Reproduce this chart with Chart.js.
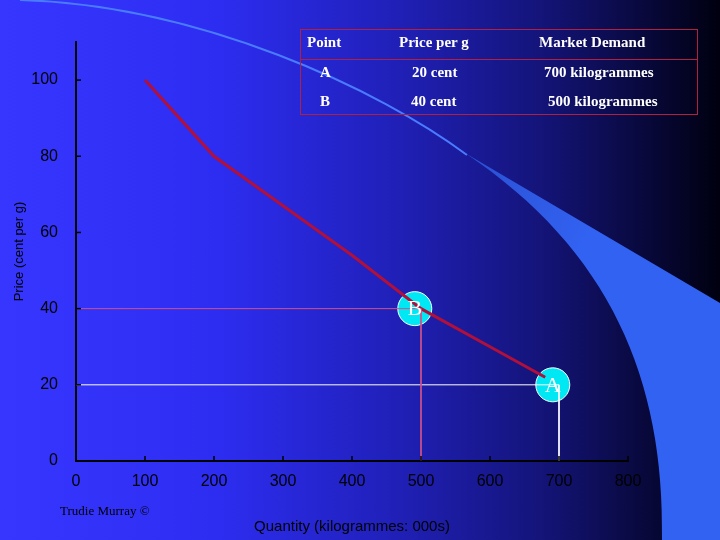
<!DOCTYPE html>
<html>
<head>
<meta charset="utf-8">
<script src="https://cdn.jsdelivr.net/npm/chart.js@4"></script>
<style>
  body { margin: 0; }
  #wrap { position: relative; width: 720px; height: 540px;
    background: linear-gradient(90deg, #3636ff 0%, #2d2df2 30%, #2020b8 55%, #14147a 75%, #000010 100%); overflow: hidden; }
  #table { position: absolute; left: 300px; top: 29px; width: 396px; height: 84px; border: 1px solid #b02040;
    font-family: "Liberation Serif", serif; font-size: 15px; font-weight: bold; color: #fff; }
  #table div { position: absolute; }
  #table .sep { left: 0; right: 0; top: 29px; height: 0; border-top: 1px solid #b02040; }
  #credit { position: absolute; left: 60px; top: 503px; font-family: "Liberation Serif", serif; font-size: 13px; color: #000; }
  canvas { position: absolute; left: 0; top: 0; }
</style>
</head>
<body>
<div id="wrap">
  <canvas id="chart" width="720" height="540"></canvas>
  <div id="table"><div class="sep"></div></div>
  <div id="credit">Trudie Murray ©</div>
</div>
<script>
// demand curve
const quantity = [100, 200, 300, 400, 500, 600, 680];
const price = [100, 80, 67, 54, 40, 30, 22];

// marked points
const pointNames = ["B", "A"];
const pointQty = [500, 700];
const pointPrice = [40, 20];

// table
const tableHead = ["Point", "Price per g", "Market Demand"];
const tableRows = [["A", "20 cent", "700 kilogrammes"], ["B", "40 cent", "500 kilogrammes"]];

const table = document.getElementById("table");
const colX = [[6, 98, 238], [19, 111, 243], [19, 110, 247]];
const rowY = [4, 34, 63];
[tableHead].concat(tableRows).forEach(function (row, r) {
    row.forEach(function (txt, c) {
        const d = document.createElement("div");
        d.textContent = txt;
        d.style.left = colX[r][c] + "px";
        d.style.top = rowY[r] + "px";
        table.appendChild(d);
    });
});

// swoosh decoration + tick marks + point labels
const swoosh = {
    id: "swoosh",
    beforeDraw(chart) {
        const c = chart.ctx;
        c.save();
        c.strokeStyle = "#4a7cff";
        c.lineWidth = 2;
        c.beginPath();
        c.moveTo(20, 0);
        c.bezierCurveTo(200, 5, 380, 90, 467, 155);
        c.stroke();
        const g = c.createLinearGradient(465, 153, 720, 303);
        g.addColorStop(0, "#2a4fd0");
        g.addColorStop(0.5, "#3262f2");
        g.addColorStop(1, "#3262f2");
        c.fillStyle = g;
        c.beginPath();
        c.moveTo(465, 153);
        c.lineTo(720, 303);
        c.lineTo(720, 540);
        c.lineTo(662, 540);
        c.bezierCurveTo(665, 380, 610, 250, 465, 153);
        c.closePath();
        c.fill();
        c.restore();
    },
    afterDatasetsDraw(chart) {
        const c = chart.ctx;
        const x = chart.scales.x, y = chart.scales.y;
        c.save();
        c.strokeStyle = "#000";
        c.lineWidth = 1.5;
        x.ticks.forEach(function (t) {
            const px = x.getPixelForValue(t.value);
            c.beginPath(); c.moveTo(px, y.bottom); c.lineTo(px, y.bottom - 5); c.stroke();
        });
        y.ticks.forEach(function (t) {
            const py = y.getPixelForValue(t.value);
            c.beginPath(); c.moveTo(x.left, py); c.lineTo(x.left + 5, py); c.stroke();
        });
        c.fillStyle = "#ffffff";
        c.font = "22px 'Liberation Serif'";
        c.textAlign = "center";
        c.textBaseline = "middle";
        pointNames.forEach(function (n, i) {
            c.fillText(n, x.getPixelForValue(pointQty[i] - 9), y.getPixelForValue(pointPrice[i]) + 1);
        });
        c.restore();
    }
};

new Chart(document.getElementById("chart"), {
    type: "scatter",
    data: {
        datasets: [
            { data: [{x: 0, y: 40}, {x: 500, y: 40}, {x: 500, y: 0}], showLine: true, borderColor: "#d0508a", borderWidth: 1, pointRadius: 0 },
            { data: [{x: 0, y: 20}, {x: 700, y: 20}, {x: 700, y: 0}], showLine: true, borderColor: "#ffffff", borderWidth: 1, pointRadius: 0 },
            { data: quantity.map((q, i) => ({x: q, y: price[i]})), showLine: true, borderColor: "#b0103a", borderWidth: 3, pointRadius: 0 },
            { data: pointQty.map((q, i) => ({x: q - 9, y: pointPrice[i]})), pointRadius: 17, backgroundColor: "#00e8f4", borderColor: "#ffffff", borderWidth: 1 }
        ]
    },
    options: {
        responsive: false,
        animation: false,
        layout: { padding: { top: 42, right: 92, left: 0, bottom: 0 } },
        plugins: { legend: { display: false }, tooltip: { enabled: false } },
        scales: {
            x: {
                min: 0, max: 800,
                ticks: { stepSize: 100, color: "#000", font: { family: "Liberation Sans", size: 16 } },
                grid: { display: false },
                border: { color: "#000", width: 2 },
                title: { display: true, text: "Quantity (kilogrammes: 000s)", color: "#000", font: { family: "Liberation Sans", size: 15 }, padding: { top: 14 } },
                afterFit(s) { s.height = 79; }
            },
            y: {
                min: 0, max: 110,
                afterBuildTicks(s) { s.ticks = s.ticks.filter(t => t.value <= 100 && t.value % 20 === 0); },
                ticks: { stepSize: 20, color: "#000", font: { family: "Liberation Sans", size: 16 }, padding: 10 },
                grid: { display: false },
                border: { color: "#000", width: 2 },
                title: { display: true, text: "Price (cent per g)", color: "#000", font: { family: "Liberation Sans", size: 13 }, padding: { top: 12, bottom: 0 } },
                afterFit(s) { s.width = 76; }
            }
        }
    },
    plugins: [swoosh]
});
</script>
</body>
</html>
